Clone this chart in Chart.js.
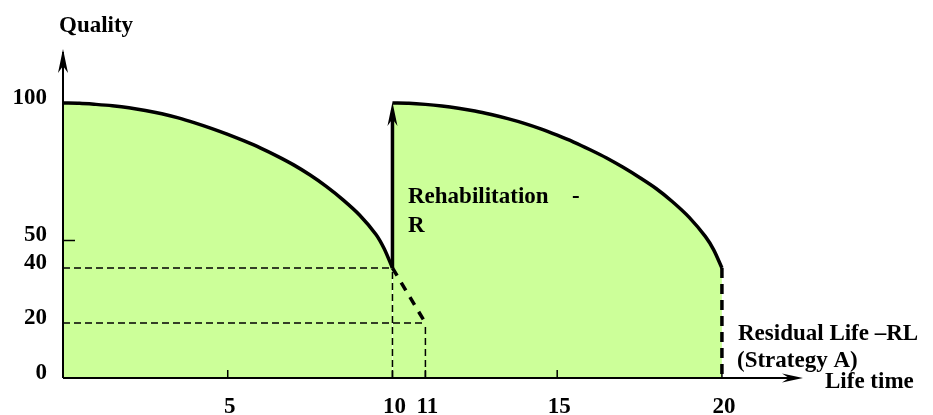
<!DOCTYPE html>
<html>
<head>
<meta charset="utf-8">
<script src="https://cdn.jsdelivr.net/npm/chart.js@4/dist/chart.umd.min.js"></script>
<style>
  html, body { margin: 0; padding: 0; background: #ffffff; }
  #wrap { width: 933px; height: 415px; }
</style>
</head>
<body>
<div id="wrap"><canvas id="chart" width="933" height="415"></canvas></div>
<script>
// quality curve before rehabilitation
const life1 = [0, 0.5, 1, 1.5, 2, 2.5, 3, 3.5, 4, 4.5, 5, 5.5, 6, 6.5, 7, 7.5, 8, 8.5, 9, 9.5, 9.75, 10];
const quality1 = [100, 99.9, 99.5, 99, 98.3, 97.3, 96.1, 94.6, 92.8, 90.8, 88.6, 86.2, 83.6, 80.7, 77.5, 73.8, 69.6, 64.8, 59.3, 52.2, 47, 40];

// quality curve after rehabilitation
const life2 = [10, 10.5, 11, 11.5, 12, 12.5, 13, 13.5, 14, 14.5, 15, 15.5, 16, 16.5, 17, 17.5, 18, 18.5, 19, 19.5, 19.75, 20];
const quality2 = [100, 99.9, 99.5, 98.9, 98.1, 97.1, 95.8, 94.3, 92.6, 90.6, 88.3, 85.8, 83, 80, 76.6, 72.9, 68.9, 64.1, 58.5, 51.4, 46.6, 40];

// tick labels
const xTicks = [5, 10, 11, 15, 20];
const yTicks = [0, 20, 40, 50, 100];

// guide lines
const rehabT = 10, rehabFrom = 40, rehabTo = 100;
const minQ = 40, failQ = 20, failT = 11, endT = 20;

const FONT = "'Liberation Serif', 'Times New Roman', serif";
const GREEN = "#ccff99";

function pts(xs, ys) {
  return xs.map((x, i) => ({ x: x, y: ys[i] }));
}

function thinDash(data) {
  return {
    data: data,
    borderColor: "#000",
    borderWidth: 1.5,
    borderDash: [7, 4],
    pointRadius: 0,
    fill: false,
    order: 1
  };
}

// arrowhead helper (narrow notched head)
function arrowHead(ctx, x, y, dir) {
  ctx.beginPath();
  if (dir === "up") {
    ctx.moveTo(x, y);
    ctx.lineTo(x - 5, y + 24);
    ctx.lineTo(x, y + 17);
    ctx.lineTo(x + 5, y + 24);
  } else {
    ctx.moveTo(x, y);
    ctx.lineTo(x - 21, y - 4.5);
    ctx.lineTo(x - 14, y);
    ctx.lineTo(x - 21, y + 4.5);
  }
  ctx.closePath();
  ctx.fill();
}

const extras = {
  id: "extras",
  afterDraw(chart) {
    const ctx = chart.ctx;
    const xs = chart.scales.x, ys = chart.scales.y;
    const area = chart.chartArea;
    const x0 = xs.getPixelForValue(0), y0 = ys.getPixelForValue(0);
    ctx.save();
    ctx.strokeStyle = "#000";
    ctx.fillStyle = "#000";
    ctx.setLineDash([]);

    // axes with arrows
    ctx.lineWidth = 2;
    ctx.beginPath();
    ctx.moveTo(x0, y0);
    ctx.lineTo(x0, area.top + 4);
    ctx.moveTo(x0, y0);
    ctx.lineTo(area.right - 4, y0);
    ctx.stroke();
    arrowHead(ctx, x0, area.top + 1, "up");
    arrowHead(ctx, area.right + 2, y0, "right");

    // small tick marks on x axis (inside)
    ctx.lineWidth = 1.5;
    ctx.beginPath();
    xTicks.forEach(v => {
      const px = xs.getPixelForValue(v);
      ctx.moveTo(px, y0);
      ctx.lineTo(px, y0 - 8);
    });
    // tick at 50 on y axis
    const y50 = ys.getPixelForValue(50);
    ctx.moveTo(x0, y50);
    ctx.lineTo(x0 + 12, y50);
    ctx.stroke();

    // rehabilitation arrowhead
    arrowHead(ctx, xs.getPixelForValue(rehabT), ys.getPixelForValue(rehabTo) - 1, "up");

    // texts
    ctx.font = "bold 23px " + FONT;
    ctx.textAlign = "left";
    ctx.textBaseline = "alphabetic";
    ctx.fillText("Quality", 59, 32);
    ctx.fillText("Rehabilitation", 408, 203);
    ctx.fillText("-", 572, 203);
    ctx.fillText("R", 408, 232);
    ctx.fillText("Residual Life \u2013RL", 738, 340);
    ctx.fillText("(Strategy A)", 737, 367);
    ctx.fillText("Life time", 825, 388);
    ctx.restore();
  }
};

new Chart(document.getElementById("chart"), {
  type: "line",
  data: {
    datasets: [
      {
        data: pts(life1, quality1),
        borderColor: "#000",
        borderWidth: 3.5,
        backgroundColor: GREEN,
        fill: "origin",
        tension: 0.3,
        pointRadius: 0,
        order: 3
      },
      {
        data: pts(life2, quality2),
        borderColor: "#000",
        borderWidth: 3.5,
        backgroundColor: GREEN,
        fill: "origin",
        tension: 0.3,
        pointRadius: 0,
        order: 3
      },
      // rehabilitation jump
      {
        data: [{ x: rehabT, y: rehabFrom }, { x: rehabT, y: rehabTo - 4 }],
        borderColor: "#000",
        borderWidth: 3.5,
        pointRadius: 0,
        fill: false,
        order: 0
      },
      // residual life (strategy A)
      {
        data: [{ x: endT, y: minQ }, { x: endT, y: 0 }],
        borderColor: "#000",
        borderWidth: 3.5,
        borderDash: [10, 6],
        pointRadius: 0,
        fill: false,
        order: 0
      },
      // decay without rehabilitation
      {
        data: [{ x: rehabT, y: minQ }, { x: failT, y: failQ }],
        borderColor: "#000",
        borderWidth: 3.5,
        borderDash: [9, 8],
        pointRadius: 0,
        fill: false,
        order: 0
      },
      thinDash([{ x: 0, y: minQ }, { x: rehabT, y: minQ }]),
      thinDash([{ x: 0, y: failQ }, { x: failT, y: failQ }]),
      thinDash([{ x: rehabT, y: 0 }, { x: rehabT, y: minQ }]),
      thinDash([{ x: failT, y: 0 }, { x: failT, y: failQ }])
    ]
  },
  options: {
    responsive: false,
    animation: false,
    layout: { padding: { left: 0, right: 132, top: 48, bottom: 0 } },
    plugins: {
      legend: { display: false },
      tooltip: { enabled: false }
    },
    scales: {
      x: {
        type: "linear",
        min: 0,
        max: 22.4,
        grid: { display: false, drawTicks: false },
        border: { display: false },
        afterBuildTicks: s => { s.ticks = xTicks.map(v => ({ value: v })); },
        afterFit: s => { s.height = 37; },
        ticks: {
          autoSkip: false,
          maxRotation: 0,
          padding: 15,
          labelOffset: 2,
          color: "#000",
          font: { family: FONT, size: 23, weight: "bold" }
        }
      },
      y: {
        type: "linear",
        min: 0,
        max: 120,
        grid: { display: false, drawTicks: false },
        border: { display: false },
        afterBuildTicks: s => { s.ticks = yTicks.map(v => ({ value: v })); },
        afterFit: s => { s.width = 63; },
        ticks: {
          autoSkip: false,
          padding: 16,
          labelOffset: -5,
          color: "#000",
          font: { family: FONT, size: 23, weight: "bold" }
        }
      }
    }
  },
  plugins: [extras]
});
</script>
</body>
</html>
